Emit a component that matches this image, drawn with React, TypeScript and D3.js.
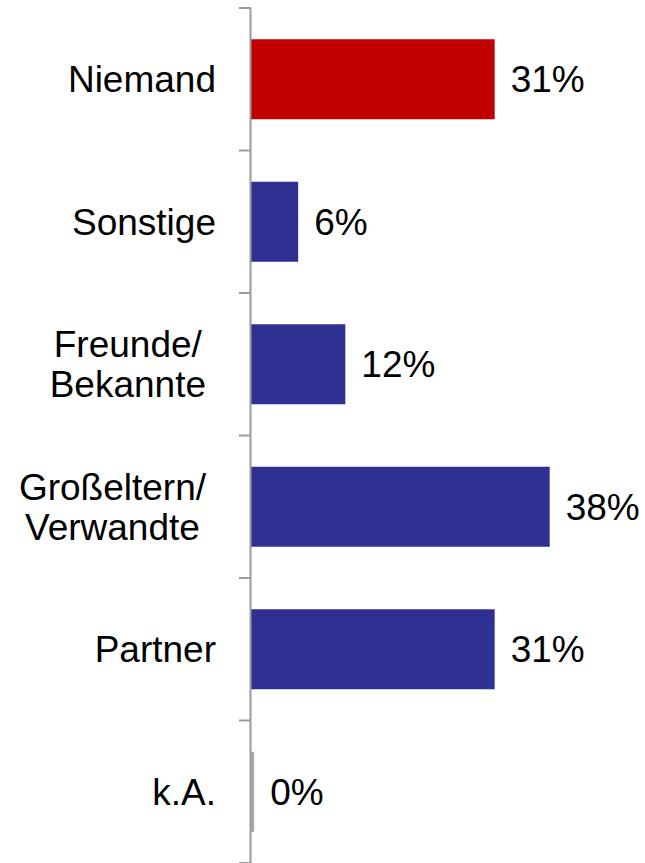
import React, { useEffect, useRef } from 'react';
import * as d3 from 'd3';

const categories = ['Niemand', 'Sonstige', 'Freunde/\nBekannte', 'Großeltern/\nVerwandte', 'Partner', 'k.A.'];
const values = [31, 6, 12, 38, 31, 0.4];
const colors = ['#C00000', '#2E3192', '#2E3192', '#2E3192', '#2E3192', '#A6A6A6'];

const App = () => {
  const svgRef = useRef<SVGSVGElement>(null);

  useEffect(() => {
    const width = 645;
    const height = 863;
    const axisX = 251;
    const font = '"Liberation Sans", Arial, sans-serif';
    const fontSize = 37;

    const svg = d3.select(svgRef.current)
      .attr('width', width)
      .attr('height', height);
    svg.selectAll('*').remove();

    const y = d3.scaleBand<string>()
      .domain(categories)
      .range([8, 863])
      .paddingInner(0.4386)
      .paddingOuter(0.2193);

    const x = d3.scaleLinear()
      .domain([0, 50])
      .range([axisX, axisX + 393]);

    const step = y.step();
    const bandStart = (c: string) => (y(c) as number) - y.paddingOuter() * step;
    const center = (c: string) => (y(c) as number) + y.bandwidth() / 2;

    // bars
    svg.append('g')
      .selectAll('rect')
      .data(categories)
      .join('rect')
      .attr('x', axisX)
      .attr('y', d => y(d) as number)
      .attr('width', (d, i) => x(values[i]) - axisX)
      .attr('height', y.bandwidth())
      .attr('fill', (d, i) => colors[i]);

    // axis line + ticks at band boundaries
    const axis = svg.append('g');
    axis.append('line')
      .attr('x1', axisX - 0.5).attr('x2', axisX - 0.5)
      .attr('y1', 8).attr('y2', height)
      .attr('stroke', '#9B9B9B').attr('stroke-width', 2);
    const tickYs = categories.map(c => bandStart(c)).concat([863]);
    axis.selectAll('line.tick')
      .data(tickYs)
      .join('line')
      .attr('class', 'tick')
      .attr('x1', axisX - 12).attr('x2', axisX)
      .attr('y1', d => d).attr('y2', d => d)
      .attr('stroke', '#9B9B9B').attr('stroke-width', 2);

    // category labels: block right-aligned near the axis, lines centred
    const labels = svg.append('g')
      .attr('font-family', font)
      .attr('font-size', fontSize)
      .attr('fill', '#000');
    const lineGap = 40;
    categories.forEach(c => {
      const lines = c.split('\n');
      const right = lines.length > 1 ? 206 : 216;
      const t = labels.append('text').attr('text-anchor', 'middle');
      const firstBase = center(c) + 13 - ((lines.length - 1) * lineGap) / 2;
      lines.forEach((ln, k) => {
        t.append('tspan').attr('y', firstBase + k * lineGap).text(ln);
      });
      const w = d3.max(t.selectAll<SVGTSpanElement, unknown>('tspan').nodes(), n => n.getComputedTextLength()) || 0;
      t.selectAll('tspan').attr('x', right - w / 2);
    });

    // value labels
    svg.append('g')
      .attr('font-family', font)
      .attr('font-size', fontSize)
      .attr('fill', '#000')
      .selectAll('text')
      .data(categories)
      .join('text')
      .attr('x', (d, i) => x(values[i]) + 16)
      .attr('y', d => center(d) + 13)
      .text((d, i) => `${Math.round(values[i])}%`);
  }, []);

  return <svg ref={svgRef} style={{ position: 'absolute', left: 0, top: 0, background: '#fff' }} />;
};

export default App;
